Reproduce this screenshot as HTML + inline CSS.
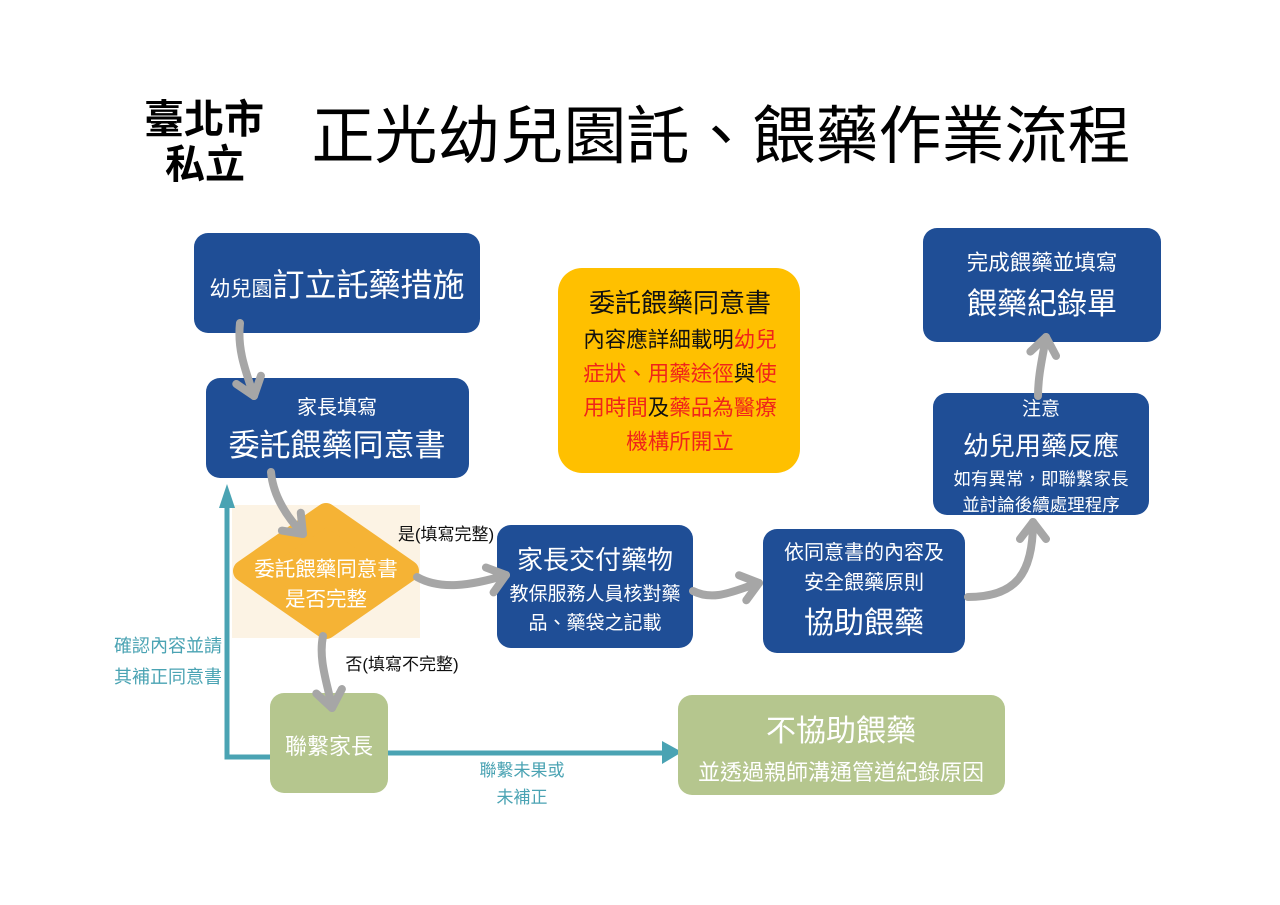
<!DOCTYPE html>
<html><head><meta charset="utf-8">
<style>
html,body{margin:0;padding:0;background:#fff;}
svg{display:block;}
text{font-family:"Liberation Sans","Noto Sans CJK TC","Noto Sans CJK SC",sans-serif;}
</style></head>
<body>
<svg width="1280" height="905" viewBox="0 0 1280 905" xmlns="http://www.w3.org/2000/svg">
<defs>
<marker id="chev" markerUnits="userSpaceOnUse" markerWidth="40" markerHeight="40" viewBox="-30 -20 40 40" refX="0" refY="0" orient="auto" overflow="visible">
<path d="M-17,-13 L0,0 L-17,13" fill="none" stroke="#a6a6a6" stroke-width="8" stroke-linecap="round" stroke-linejoin="round"/>
</marker>
</defs>

<!-- Title -->
<text x="204" y="133" font-size="40" font-weight="bold" text-anchor="middle" fill="#000">臺北市</text>
<text x="205" y="178" font-size="40" font-weight="bold" text-anchor="middle" fill="#000">私立</text>
<text x="721" y="158" font-size="63" text-anchor="middle" fill="#000">正光幼兒園託、餵藥作業流程</text>

<!-- beige background behind diamond -->
<rect x="232" y="505" width="188" height="133" fill="#fcf3e4"/>

<!-- teal feedback connector -->
<polyline points="270,757 227,757 227,505" fill="none" stroke="#4aa3b3" stroke-width="5"/>
<polygon points="227,484 219,508 235,508" fill="#4aa3b3"/>
<text x="168" y="652" font-size="18" text-anchor="middle" fill="#4aa3b3">確認內容並請</text>
<text x="168" y="683" font-size="18" text-anchor="middle" fill="#4aa3b3">其補正同意書</text>

<line x1="388" y1="753" x2="664" y2="753" stroke="#4aa3b3" stroke-width="5"/>
<polygon points="682,752 662,741 662,764" fill="#4aa3b3"/>
<text x="522" y="776" font-size="17" text-anchor="middle" fill="#4aa3b3">聯繫未果或</text>
<text x="522" y="803" font-size="17" text-anchor="middle" fill="#4aa3b3">未補正</text>

<!-- Box 1 -->
<rect x="194" y="233" width="286" height="100" rx="14" fill="#1f4e96"/>
<text x="337" y="296" text-anchor="middle" fill="#fff"><tspan font-size="21">幼兒園</tspan><tspan font-size="32">訂立託藥措施</tspan></text>

<!-- Box 2 -->
<rect x="206" y="378" width="263" height="100" rx="14" fill="#1f4e96"/>
<text x="337" y="414" font-size="20" text-anchor="middle" fill="#fff">家長填寫</text>
<text x="337" y="456" font-size="31" text-anchor="middle" fill="#fff">委託餵藥同意書</text>

<!-- Yellow note -->
<rect x="558" y="268" width="242" height="205" rx="24" fill="#ffc000"/>
<text x="680" y="312" font-size="26" text-anchor="middle" fill="#111">委託餵藥同意書</text>
<text x="680" y="347" font-size="21.5" text-anchor="middle" fill="#111">內容應詳細載明<tspan fill="#f0241a">幼兒</tspan></text>
<text x="680" y="381" font-size="21.5" text-anchor="middle" fill="#f0241a">症狀、用藥途徑<tspan fill="#111">與</tspan>使</text>
<text x="680" y="415" font-size="21.5" text-anchor="middle" fill="#f0241a">用時間<tspan fill="#111">及</tspan>藥品為醫療</text>
<text x="680" y="449" font-size="21.5" text-anchor="middle" fill="#f0241a">機構所開立</text>

<!-- Top right box -->
<rect x="923" y="228" width="238" height="114" rx="14" fill="#1f4e96"/>
<text x="1042" y="270" font-size="21.5" text-anchor="middle" fill="#fff">完成餵藥並填寫</text>
<text x="1042" y="314" font-size="30" text-anchor="middle" fill="#fff">餵藥紀錄單</text>

<!-- Note box -->
<rect x="933" y="393" width="216" height="122" rx="14" fill="#1f4e96"/>
<text x="1041" y="415" font-size="19" text-anchor="middle" fill="#fff">注意</text>
<text x="1041" y="455" font-size="26" text-anchor="middle" fill="#fff">幼兒用藥反應</text>
<text x="1041" y="485" font-size="17.5" text-anchor="middle" fill="#fff">如有異常，即聯繫家長</text>
<text x="1041" y="511" font-size="17.5" text-anchor="middle" fill="#fff">並討論後續處理程序</text>

<!-- Diamond -->
<polygon points="244,571 326,514 408,571 326,628" fill="#f5b335" stroke="#f5b335" stroke-width="22" stroke-linejoin="round"/>
<text x="326" y="576" font-size="20.5" text-anchor="middle" fill="#fff">委託餵藥同意書</text>
<text x="326" y="606" font-size="20.5" text-anchor="middle" fill="#fff">是否完整</text>

<text x="446" y="540" font-size="17" text-anchor="middle" fill="#111">是(填寫完整)</text>
<text x="402" y="670" font-size="17" text-anchor="middle" fill="#111">否(填寫不完整)</text>

<!-- 家長交付藥物 -->
<rect x="497" y="525" width="196" height="123" rx="14" fill="#1f4e96"/>
<text x="595" y="569" font-size="26" text-anchor="middle" fill="#fff">家長交付藥物</text>
<text x="595" y="600" font-size="19" text-anchor="middle" fill="#fff">教保服務人員核對藥</text>
<text x="595" y="629" font-size="19" text-anchor="middle" fill="#fff">品、藥袋之記載</text>

<!-- 協助餵藥 -->
<rect x="763" y="529" width="202" height="124" rx="14" fill="#1f4e96"/>
<text x="864" y="559" font-size="20" text-anchor="middle" fill="#fff">依同意書的內容及</text>
<text x="864" y="589" font-size="20" text-anchor="middle" fill="#fff">安全餵藥原則</text>
<text x="864" y="633" font-size="30" text-anchor="middle" fill="#fff">協助餵藥</text>

<!-- 聯繫家長 -->
<rect x="270" y="693" width="118" height="100" rx="14" fill="#b5c68e"/>
<text x="329" y="754" font-size="22" text-anchor="middle" fill="#fff">聯繫家長</text>

<!-- 不協助餵藥 -->
<rect x="678" y="695" width="327" height="100" rx="14" fill="#b5c68e"/>
<text x="841" y="741" font-size="30" text-anchor="middle" fill="#fff">不協助餵藥</text>
<text x="841" y="780" font-size="22" text-anchor="middle" fill="#fff">並透過親師溝通管道紀錄原因</text>

<!-- gray curved arrows -->
<g fill="none" stroke="#a6a6a6" stroke-width="8" stroke-linecap="round">
<path d="M240,323 C237,350 246,372 254,396" marker-end="url(#chev)"/>
<path d="M271,472 C273,495 285,515 303,534" marker-end="url(#chev)"/>
<path d="M417,577 C440,590 470,586 506,575" marker-end="url(#chev)"/>
<path d="M323,636 C318,660 328,685 332,708" marker-end="url(#chev)"/>
<path d="M693,591 C715,602 735,590 759,583" marker-end="url(#chev)"/>
<path d="M968,597 C1015,597 1033,575 1033,522" marker-end="url(#chev)"/>
<path d="M1038,396 C1038,375 1043,355 1046,337" marker-end="url(#chev)"/>
</g>
</svg>
</body></html>
